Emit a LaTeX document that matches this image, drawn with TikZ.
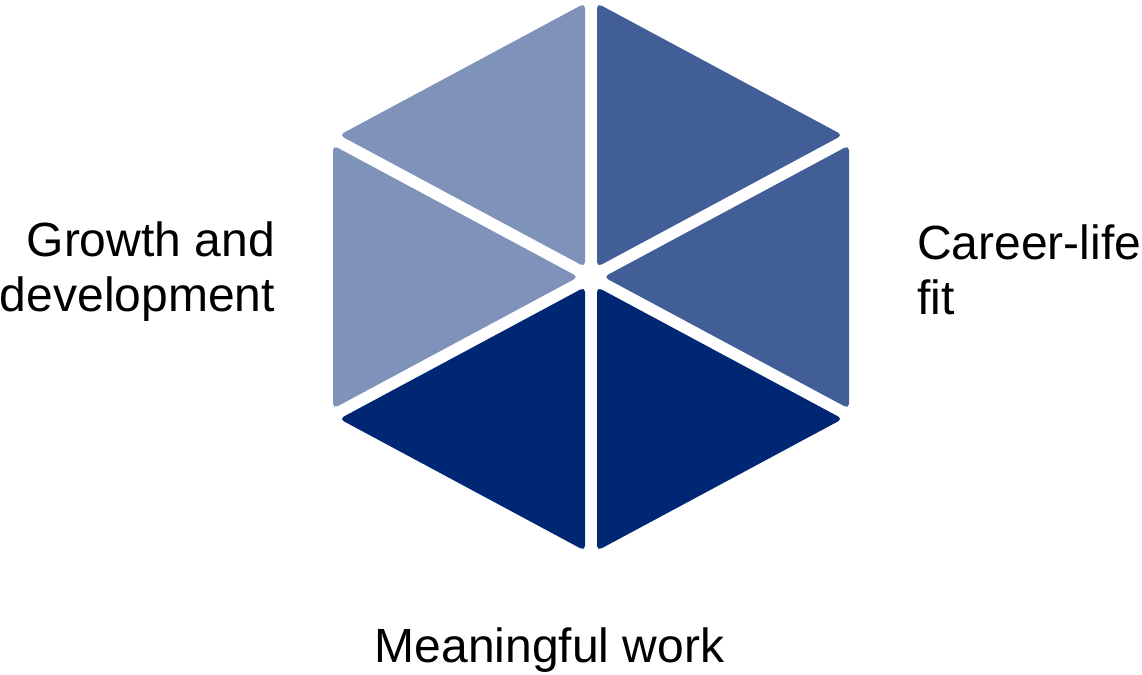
\documentclass[tikz,border=0pt]{standalone}
\usepackage{fontspec}
\setmainfont{Liberation Sans}
\definecolor{hexlight}{RGB}{127,147,186}
\definecolor{hexmid}{RGB}{65,94,151}
\definecolor{hexdark}{RGB}{0,39,115}
\begin{document}
\begin{tikzpicture}[x=1pt,y=-1pt,
  tri/.style={rounded corners=5pt},
  lbl/.style={inner sep=0pt, font=\fontsize{48}{55}\selectfont}]
\useasboundingbox (0,0) rectangle (1142,674);
% triangles
\fill[hexlight,tri] (585,266.97) -- (585,3.22) -- (339.35,135.1) -- cycle;
\fill[hexmid,tri] (597,266.97) -- (597,3.22) -- (842.65,135.1) -- cycle;
\fill[hexlight,tri] (578.32,277) -- (333,145.31) -- (333,408.69) -- cycle;
\fill[hexmid,tri] (603.68,277) -- (849,145.31) -- (849,408.69) -- cycle;
\fill[hexdark,tri] (585,287.03) -- (585,550.78) -- (339.35,418.9) -- cycle;
\fill[hexdark,tri] (597,287.03) -- (597,550.78) -- (842.65,418.9) -- cycle;
% labels
\node[lbl, anchor=base east, align=right] (growth) at (275,311) {Growth and\\development};
\node[lbl, anchor=base west, align=left] (career) at (917,314) {Career-life\\fit};
\node[lbl, anchor=base] (meaning) at (549.5,662) {Meaningful work};
\end{tikzpicture}
\end{document}
